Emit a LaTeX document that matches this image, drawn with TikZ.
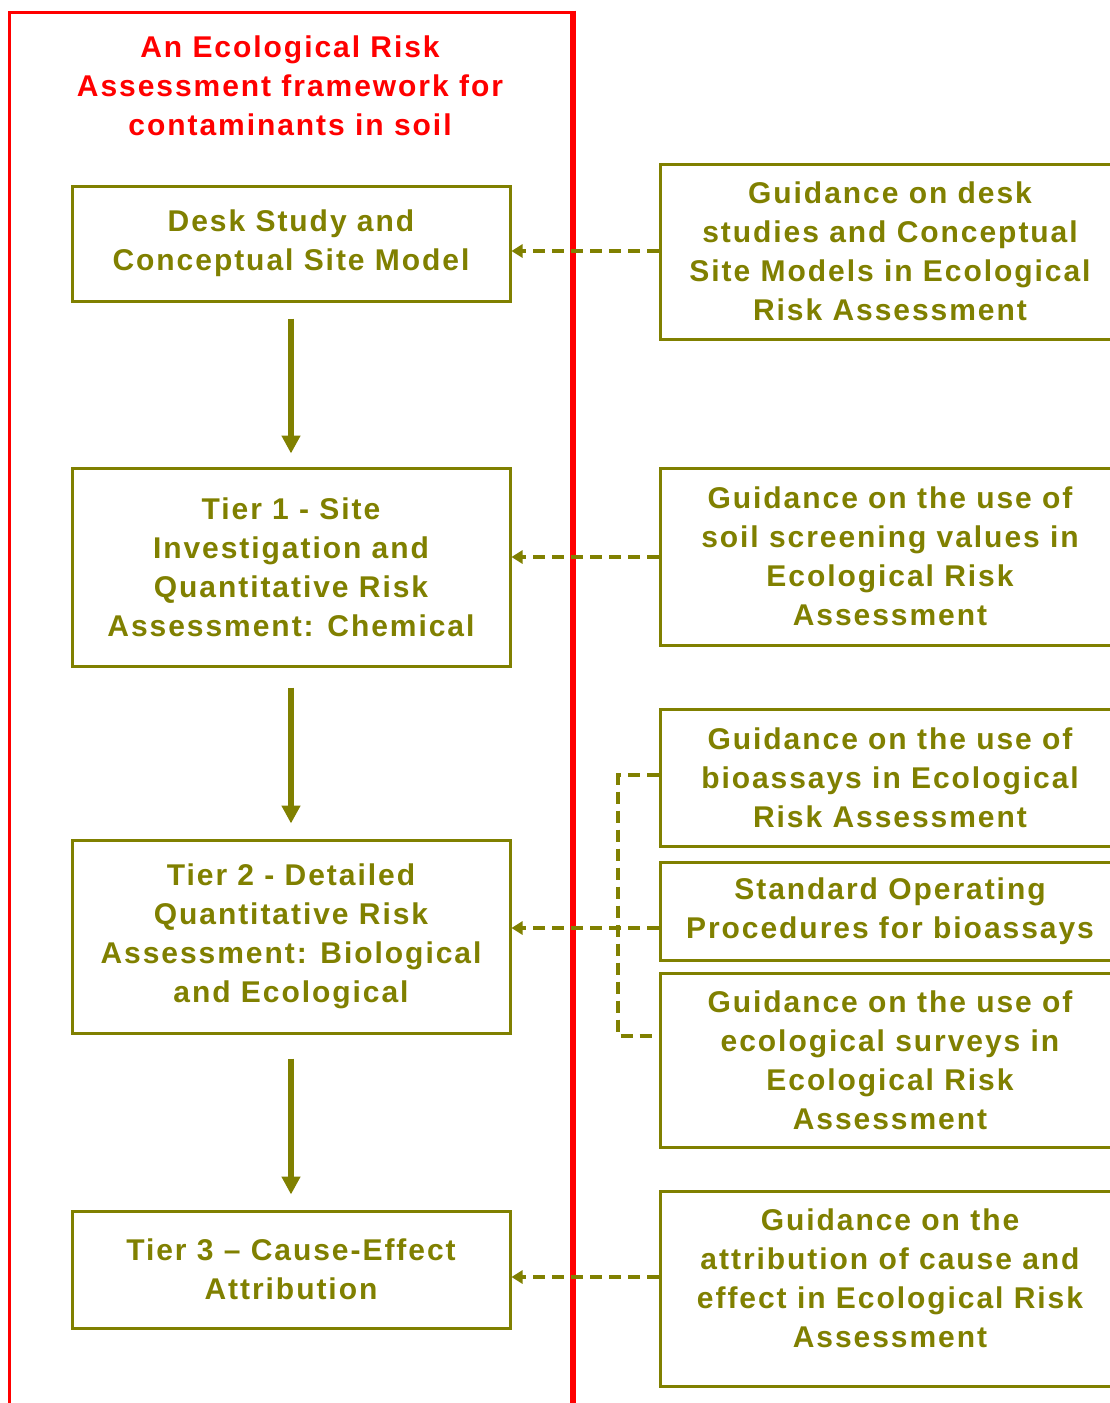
\documentclass[tikz,border=0pt]{standalone}
\usepackage{fontspec}
\setmainfont[LetterSpace=6.5]{Liberation Sans}
\usetikzlibrary{arrows.meta}
\definecolor{olive}{RGB}{128,128,0}
\definecolor{frame}{RGB}{255,0,0}
\begin{document}
\begin{tikzpicture}[x=1pt,y=-1pt,
  every node/.style={font=\fontsize{30}{39}\selectfont\bfseries, align=center, text=olive},
  stage/.style={draw=olive, line width=3pt, minimum width=438pt, inner sep=0pt},
  guide/.style={draw=olive, line width=3pt, minimum width=460pt, inner sep=0pt},
  flow/.style={draw=olive, line width=6pt, -{Triangle[length=18pt,width=18pt]}},
  feed/.style={draw=olive, line width=4pt, dash pattern=on 12pt off 7pt, -{Triangle[length=11pt,width=13pt]}},
  link/.style={draw=olive, line width=3.5pt, dash pattern=on 12pt off 7pt}]
\useasboundingbox (0,0) rectangle (1110,1403);
\clip (0,0) rectangle (1110,1403);
\fill[white] (0,0) rectangle (1110,1403);

% framework outline and heading
\draw[frame, line width=3pt] (9,1430) -- (9,12) -- (573,12);
\draw[frame, line width=6pt] (573,10.5) -- (573,1430);
\node[text=frame] (title) at (290,86) {An Ecological Risk\\Assessment framework for\\contaminants in soil};

% stages of the framework
\node[stage, minimum height=115pt] (b1) at (291,243.5) {Desk Study and\\Conceptual Site Model};
\node[stage, minimum height=198pt] (b2) at (291,567) {Tier 1 - Site\\Investigation and\\Quantitative Risk\\Assessment: Chemical};
\node[stage, minimum height=193pt] (b3) at (291,936.5) {Tier 2 - Detailed\\Quantitative Risk\\Assessment: Biological\\and Ecological};
\node[stage, minimum height=117pt] (b4) at (291,1269.5) {Tier 3 -- Cause-Effect\\Attribution};

% supporting guidance documents
\node[guide, minimum height=175pt] (r1) at (890,251.5) {Guidance on desk\\studies and Conceptual\\Site Models in Ecological\\Risk Assessment};
\node[guide, minimum height=177pt] (r2) at (890,556.5) {Guidance on the use of\\soil screening values in\\Ecological Risk\\Assessment};
\node[guide, minimum height=137pt] (r3) at (890,777.5) {Guidance on the use of\\bioassays in Ecological\\Risk Assessment};
\node[guide, minimum height=98pt] (r4) at (890,911) {Standard Operating\\Procedures for bioassays};
\node[guide, minimum height=174pt] (r5) at (890,1060) {Guidance on the use of\\ecological surveys in\\Ecological Risk\\Assessment};
\node[guide, minimum height=195pt] (r6) at (890,1288.5) {Guidance on the\\attribution of cause and\\effect in Ecological Risk\\Assessment\\[-19pt]\mbox{}};

% progression between stages
\draw[flow] (b1.south) ++(0,16) -- ([yshift=13pt]b2.north);
\draw[flow] (b2.south) ++(0,20) -- ([yshift=15pt]b3.north);
\draw[flow] (b3.south) ++(0,24) -- ([yshift=15pt]b4.north);

% guidance feeding into the stages
\draw[feed] (r1.west |- 0,251) -- (b1.east |- 0,251);
\draw[feed] (r2.west |- 0,557) -- (b2.east |- 0,557);
\draw[feed] (r4.west |- 0,928) -- (b3.east |- 0,928);
\draw[feed] (r6.west |- 0,1277) -- (b4.east |- 0,1277);
\coordinate (bt) at (618,775);
\coordinate (bb) at (618,1036);
\draw[link] (r3.west |- bt) -- (bt) -- (bb) -- (r5.west |- bb);
\end{tikzpicture}
\end{document}
